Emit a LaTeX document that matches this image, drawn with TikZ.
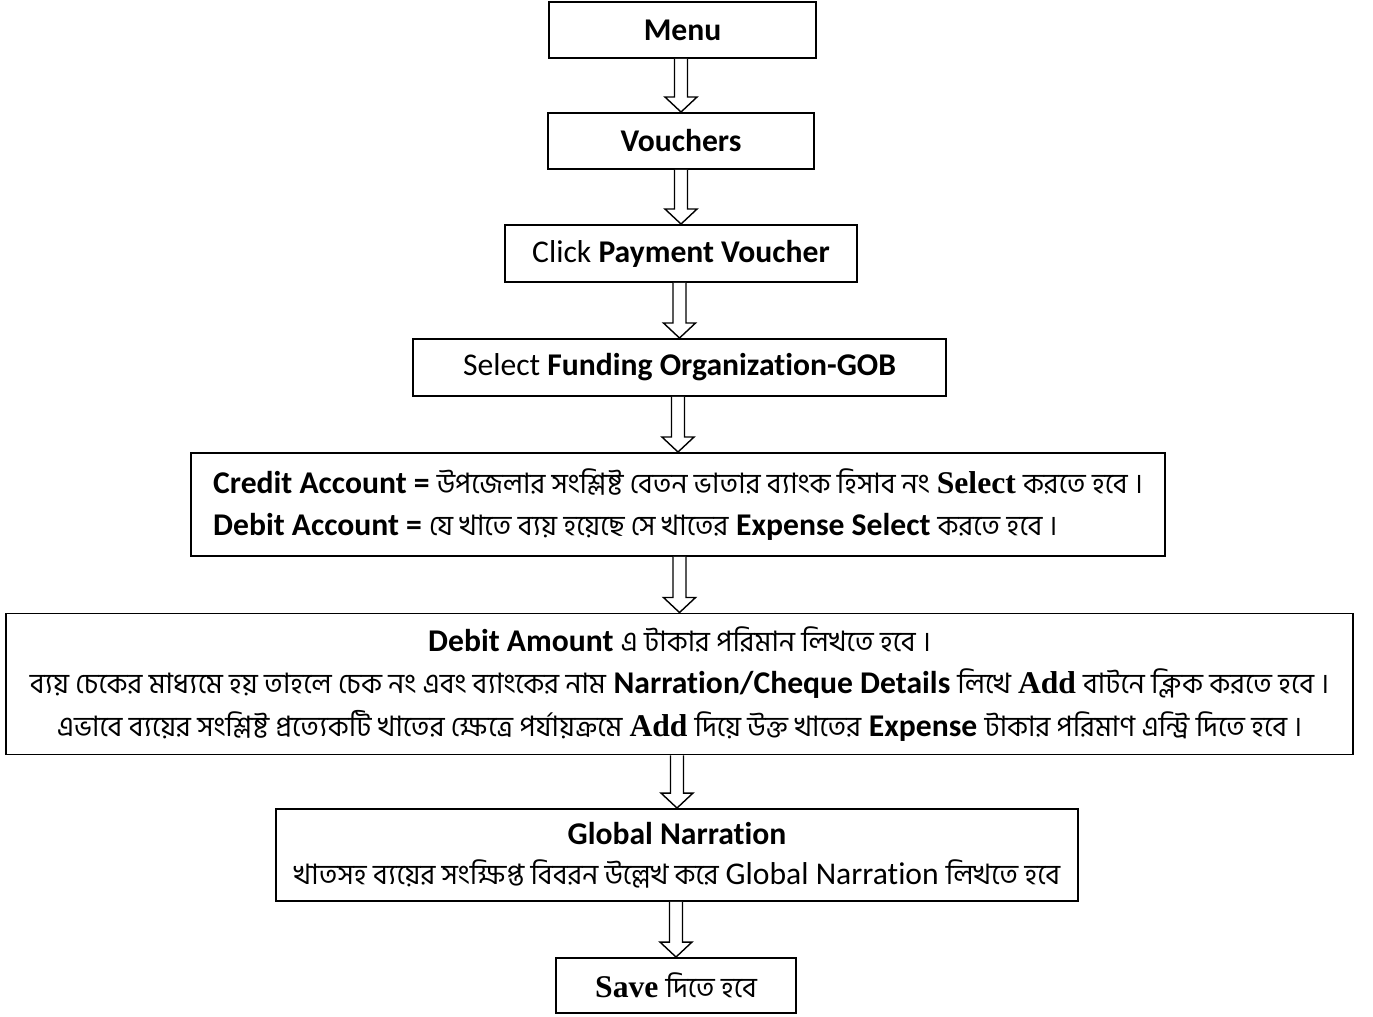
\documentclass[tikz,border=0pt]{standalone}
\usepackage{fontspec}
\setmainfont{Carlito}[Ligatures=CommonOff]
\newfontfamily\bnfont[Script=Bengali,Scale=0.89]{Hind Siliguri}
\newfontfamily\serfont{Liberation Serif}
\usetikzlibrary{calc}

\newcommand{\bn}[1]{{\bnfont #1}}
\newcommand{\sbf}[1]{{\serfont\bfseries #1}}

% hollow block arrow from the box above to the box below
\newcommand{\flowarrow}[2]{%
  \draw[hollow] let \p1=(#1.south), \p2=(#2.north) in
    (\x2-0.13cm,\y1) -- (\x2-0.13cm,\y2+0.3cm) -- (\x2-0.32cm,\y2+0.3cm)
    -- (\x2,\y2) -- (\x2+0.32cm,\y2+0.3cm) -- (\x2+0.13cm,\y2+0.3cm)
    -- (\x2+0.13cm,\y1);
}

\begin{document}
\begin{tikzpicture}[
    box/.style={draw, line width=1.1pt, inner sep=0pt, align=center,
      font=\fontsize{18}{21}\selectfont},
    hollow/.style={line width=0.8pt, fill=white}
  ]
  \useasboundingbox (0,0) rectangle (27.46,-20.32);

  \node[box, minimum width=5.34cm, minimum height=1.12cm] (menu) at (13.65,-0.60) {\textbf{Menu}};
  \node[box, minimum width=5.32cm, minimum height=1.12cm] (vouchers) at (13.62,-2.82) {\textbf{Vouchers}};
  \node[box, minimum width=7.04cm, minimum height=1.14cm] (click) at (13.62,-5.07) {Click \textbf{Payment Voucher}};
  \node[box, minimum width=10.66cm, minimum height=1.14cm] (funding) at (13.59,-7.35) {Select \textbf{Funding Organization-GOB}};

  \node[box, minimum width=19.48cm, minimum height=2.06cm, align=left,
    font=\fontsize{18}{23.5}\selectfont] (accounts) at (13.56,-10.09)
    {\textbf{Credit Account =} \bn{উপজেলার সংশ্লিষ্ট বেতন ভাতার ব্যাংক হিসাব নং} \sbf{Select} \bn{করতে হবে ।}\\
     \textbf{Debit Account =} \bn{যে খাতে ব্যয় হয়েছে সে খাতের} \textbf{Expense Select} \bn{করতে হবে ।}};

  \node[box, minimum width=26.94cm, minimum height=2.82cm, font=\fontsize{18}{24}\selectfont] (amount) at (13.59,-13.68)
    {\textbf{Debit Amount} \bn{এ টাকার পরিমান লিখতে হবে ।}\\
     \bn{ব্যয় চেকের মাধ্যমে হয় তাহলে চেক নং এবং ব্যাংকের নাম} \textbf{Narration/Cheque Details} \bn{লিখে} \sbf{Add} \bn{বাটনে ক্লিক করতে হবে ।}\\
     \bn{এভাবে ব্যয়ের সংশ্লিষ্ট প্রত্যেকটি খাতের ক্ষেত্রে পর্যায়ক্রমে} \sbf{Add} \bn{দিয়ে উক্ত খাতের} \textbf{Expense} \bn{টাকার পরিমাণ এন্ট্রি দিতে হবে ।}};

  \node[box, minimum width=16.04cm, minimum height=1.84cm, font=\fontsize{18}{23}\selectfont] (narration) at (13.54,-17.10)
    {\textbf{Global Narration}\\
     \bn{খাতসহ ব্যয়ের সংক্ষিপ্ত বিবরন উল্লেখ করে} Global Narration \bn{লিখতে হবে}};

  \node[box, minimum width=4.80cm, minimum height=1.10cm] (save) at (13.52,-19.71) {\sbf{Save} \bn{দিতে হবে}};

  % Menu -> Vouchers -> Payment Voucher -> Funding
  \flowarrow{menu}{vouchers}
  \flowarrow{vouchers}{click}
  \flowarrow{click}{funding}

  % Funding -> Accounts -> Amount
  \flowarrow{funding}{accounts}
  \flowarrow{accounts}{amount}

  % Amount -> Narration -> Save
  \flowarrow{amount}{narration}
  \flowarrow{narration}{save}
\end{tikzpicture}
\end{document}
